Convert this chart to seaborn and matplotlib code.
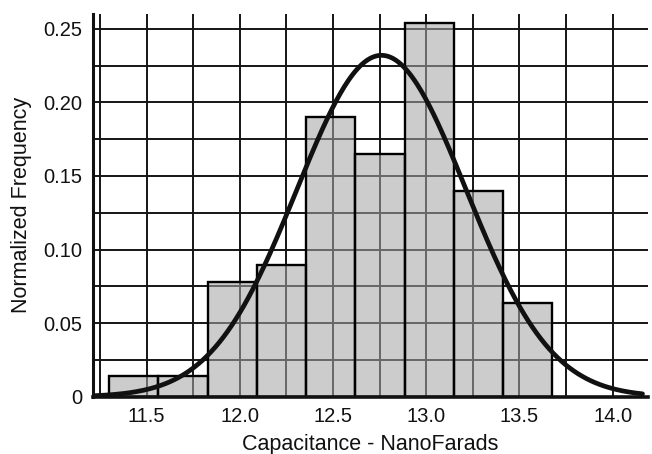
import numpy as np
import matplotlib
matplotlib.use("Agg")
import matplotlib.pyplot as plt
import matplotlib.ticker as mticker
import seaborn as sns

# histogram (normalized frequency per bin)
bin_edges = [11.300, 11.564, 11.828, 12.092, 12.356, 12.620, 12.884, 13.148, 13.412, 13.676]
norm_freq = [0.0143, 0.0143, 0.078, 0.0895, 0.190, 0.165, 0.254, 0.140, 0.064]

# fitted normal curve
fit_mean = 12.76
fit_sd = 0.454
curve_range = (11.22, 14.16)

xtick_vals = [11.5, 12.0, 12.5, 13.0, 13.5, 14.0]
xtick_labels = ["11.5", "12.0", "12.5", "13.0", "13.5", "14.0"]
ytick_vals = [0, 0.05, 0.10, 0.15, 0.20, 0.25]
ytick_labels = ["0", "0.05", "0.10", "0.15", "0.20", "0.25"]

sns.set_style("white")
plt.rcParams['font.family'] = ['Liberation Sans', 'DejaVu Sans']

bin_width = bin_edges[1] - bin_edges[0]
centers = [(a + b) / 2 for a, b in zip(bin_edges[:-1], bin_edges[1:])]

xs = np.linspace(curve_range[0], curve_range[1], 400)
ys = bin_width * np.exp(-0.5 * ((xs - fit_mean) / fit_sd) ** 2) / (fit_sd * np.sqrt(2 * np.pi))

fig = plt.figure(figsize=(6.52, 4.54), dpi=100)
ax = fig.add_axes([0.143, 0.126, 0.851, 0.843])

sns.histplot(x=centers, weights=norm_freq, bins=bin_edges, stat="count",
             color="#a6a6a6", alpha=0.57, edgecolor="black", linewidth=1.7, ax=ax)
sns.lineplot(x=xs, y=ys, color="#111111", linewidth=3.4, ax=ax)

ax.set_xlim(11.214, 14.19)
ax.set_ylim(0, 0.26)

ax.set_xticks(xtick_vals)
ax.set_xticklabels(xtick_labels)
ax.set_yticks(ytick_vals)
ax.set_yticklabels(ytick_labels)
ax.xaxis.set_minor_locator(mticker.MultipleLocator(0.25))
ax.yaxis.set_minor_locator(mticker.MultipleLocator(0.025))
ax.tick_params(which="both", length=0, labelsize=14.5, colors="#111111")
ax.tick_params(axis="x", pad=7)
ax.tick_params(axis="y", pad=8)

ax.grid(True, which="both", color="#151515", linewidth=1.4)
ax.set_axisbelow(True)

sns.despine(ax=ax, top=True, right=True)
ax.spines["left"].set_linewidth(2.2)
ax.spines["bottom"].set_linewidth(2.6)
ax.spines["left"].set_color("#111111")
ax.spines["bottom"].set_color("#111111")

ax.set_xlabel("Capacitance - NanoFarads", fontsize=15.5, color="#111111", labelpad=6)
ax.set_ylabel("Normalized Frequency", fontsize=15.5, color="#111111", labelpad=8)

fig.savefig("out.png", dpi=100)
